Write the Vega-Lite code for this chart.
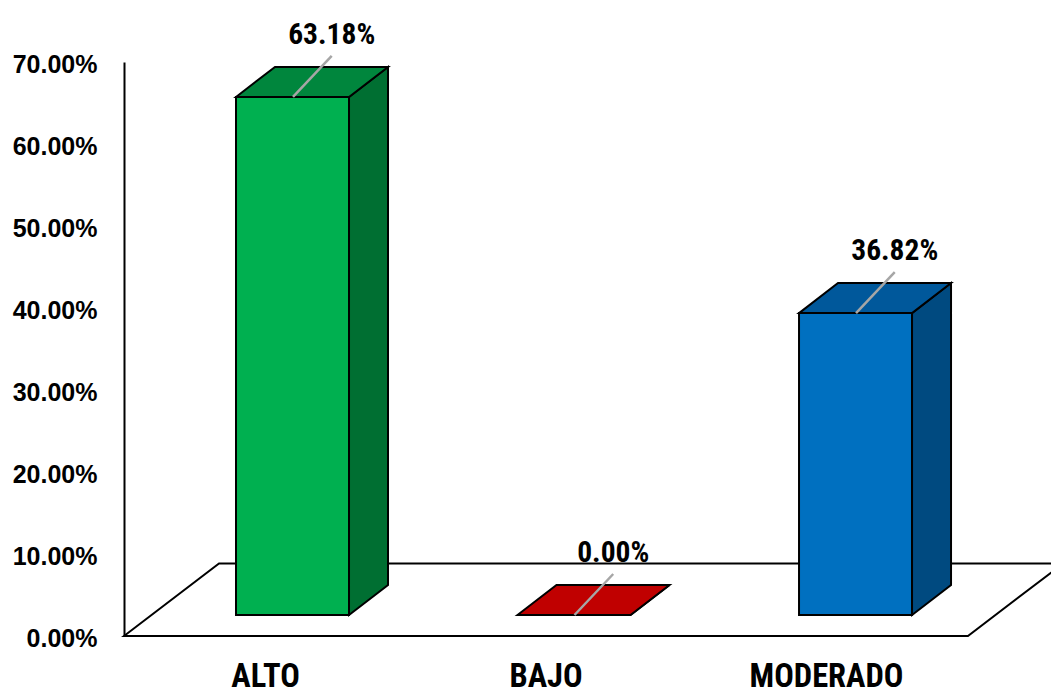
{
  "$schema": "https://vega.github.io/schema/vega-lite/v6.json",
  "background": "white",
  "autosize": "none",
  "padding": {"left": 124, "top": 62, "right": 0, "bottom": 54},
  "width": 927,
  "height": 574,
  "config": {"view": {"stroke": null}},
  "encoding": {
    "x": {
      "field": "vx",
      "type": "quantitative",
      "scale": {"domain": [-0.5027, 2.8021], "nice": false, "zero": false},
      "axis": {
        "title": null,
        "values": [0, 1, 2],
        "labelExpr": "['ALTO','BAJO','MODERADO'][datum.value]",
        "domain": false,
        "ticks": false,
        "grid": false,
        "labelFont": "Roboto Condensed, DejaVu Sans Condensed, sans-serif",
        "labelFontWeight": "bold",
        "labelFontSize": 32.5,
        "labelColor": "#000000",
        "labelBaseline": "alphabetic",
        "labelPadding": 50,
        "labelLimit": 400,
        "labelOverlap": false,
        "labelFlush": false
      }
    },
    "y": {
      "field": "vy",
      "type": "quantitative",
      "scale": {"domain": [0, 70], "nice": false},
      "axis": {
        "title": null,
        "values": [0, 10, 20, 30, 40, 50, 60, 70],
        "labelExpr": "format(datum.value, '.2f') + '%'",
        "domainColor": "#000000",
        "domainWidth": 2,
        "ticks": false,
        "grid": false,
        "zindex": 1,
        "labelFont": "Liberation Sans",
        "labelFontWeight": "bold",
        "labelFontSize": 25,
        "labelColor": "#000000",
        "labelPadding": 27,
        "labelOffset": 2,
        "labelOverlap": false
      }
    }
  },
  "layer": [
    {
      "description": "Chart floor",
      "data": {"values": [{"superficie": "piso"}]},
      "transform": [
        {"calculate": "[-0.5027, -0.164, 2.506, 2.845]", "as": "vx"},
        {"calculate": "[0, 8.84, 8.84, 8.84]", "as": "vy"},
        {"calculate": "[0, 0, 0, 8.84]", "as": "vy2"},
        {"flatten": ["vx", "vy", "vy2"]}
      ],
      "mark": {"type": "area", "fill": "white", "stroke": "#000000", "strokeWidth": 2},
      "encoding": {"y2": {"field": "vy2"}}
    },
    {
      "data": {
        "values": [
          {"nivel": "ALTO", "pct": 63.18},
          {"nivel": "BAJO", "pct": 0},
          {"nivel": "MODERADO", "pct": 36.82}
        ]
      },
      "transform": [
        {"calculate": "indexof(['ALTO','BAJO','MODERADO'], datum.nivel) * 1.0036", "as": "pos"},
        {"calculate": "datum.pos - 0.1034", "as": "izq"},
        {"calculate": "datum.pos + 0.2995", "as": "der"},
        {"calculate": "2.56", "as": "base"},
        {"calculate": "datum.base + datum.pct", "as": "techo"}
      ],
      "layer": [
        {
          "description": "Front faces",
          "transform": [
            {"calculate": "[datum.izq, datum.der]", "as": "vx"},
            {"calculate": "[datum.techo, datum.techo]", "as": "vy"},
            {"calculate": "[datum.base, datum.base]", "as": "vy2"},
            {"flatten": ["vx", "vy", "vy2"]}
          ],
          "mark": {"type": "area", "stroke": "#000000", "strokeWidth": 2, "opacity": 1},
          "encoding": {
            "y2": {"field": "vy2"},
            "detail": {"field": "nivel"},
            "color": {
              "field": "nivel",
              "legend": null,
              "scale": {"domain": ["ALTO", "BAJO", "MODERADO"], "range": ["#00B050", "#C00000", "#0070C0"]}
            }
          }
        },
        {
          "description": "Side faces",
          "transform": [
            {"calculate": "[datum.der, datum.der + 0.139]", "as": "vx"},
            {"calculate": "[datum.techo, datum.techo + 3.66]", "as": "vy"},
            {"calculate": "[datum.base, datum.base + 3.66]", "as": "vy2"},
            {"flatten": ["vx", "vy", "vy2"]}
          ],
          "mark": {"type": "area", "stroke": "#000000", "strokeWidth": 2, "opacity": 1},
          "encoding": {
            "y2": {"field": "vy2"},
            "detail": {"field": "nivel"},
            "color": {
              "field": "nivel",
              "legend": null,
              "scale": {"domain": ["ALTO", "BAJO", "MODERADO"], "range": ["#006F32", "#900000", "#004A80"]}
            }
          }
        },
        {
          "description": "Top faces",
          "transform": [
            {"calculate": "[datum.izq, datum.izq + 0.139, datum.der, datum.der + 0.139]", "as": "vx"},
            {"calculate": "[datum.techo, datum.techo + 3.66, datum.techo + 3.66, datum.techo + 3.66]", "as": "vy"},
            {"calculate": "[datum.techo, datum.techo, datum.techo, datum.techo + 3.66]", "as": "vy2"},
            {"flatten": ["vx", "vy", "vy2"]}
          ],
          "mark": {"type": "area", "stroke": "#000000", "strokeWidth": 2, "opacity": 1},
          "encoding": {
            "y2": {"field": "vy2"},
            "detail": {"field": "nivel"},
            "color": {
              "field": "nivel",
              "legend": null,
              "scale": {"domain": ["ALTO", "BAJO", "MODERADO"], "range": ["#00863D", "#C00000", "#00589B"]}
            }
          }
        },
        {
          "description": "Leader lines",
          "transform": [
            {"calculate": "[datum.pos + 0.0998, datum.pos + 0.2378]", "as": "vx"},
            {"calculate": "[datum.techo, datum.techo + 5]", "as": "vy"},
            {"flatten": ["vx", "vy"]}
          ],
          "mark": {"type": "line", "stroke": "#A6A6A6", "strokeWidth": 2.5},
          "encoding": {"detail": {"field": "nivel"}}
        },
        {
          "description": "Value labels",
          "transform": [
            {"calculate": "datum.pos + 0.2378", "as": "vx"},
            {"calculate": "datum.techo + 5", "as": "vy"},
            {"calculate": "format(datum.pct, '.2f') + '%'", "as": "etiqueta"}
          ],
          "mark": {
            "type": "text",
            "font": "Roboto Condensed, DejaVu Sans Condensed, sans-serif",
            "fontWeight": "bold",
            "fontSize": 29.5,
            "color": "#000000",
            "align": "center",
            "baseline": "alphabetic",
            "dy": -12
          },
          "encoding": {"text": {"field": "etiqueta"}}
        }
      ],
      "resolve": {"scale": {"color": "independent"}}
    }
  ]
}
